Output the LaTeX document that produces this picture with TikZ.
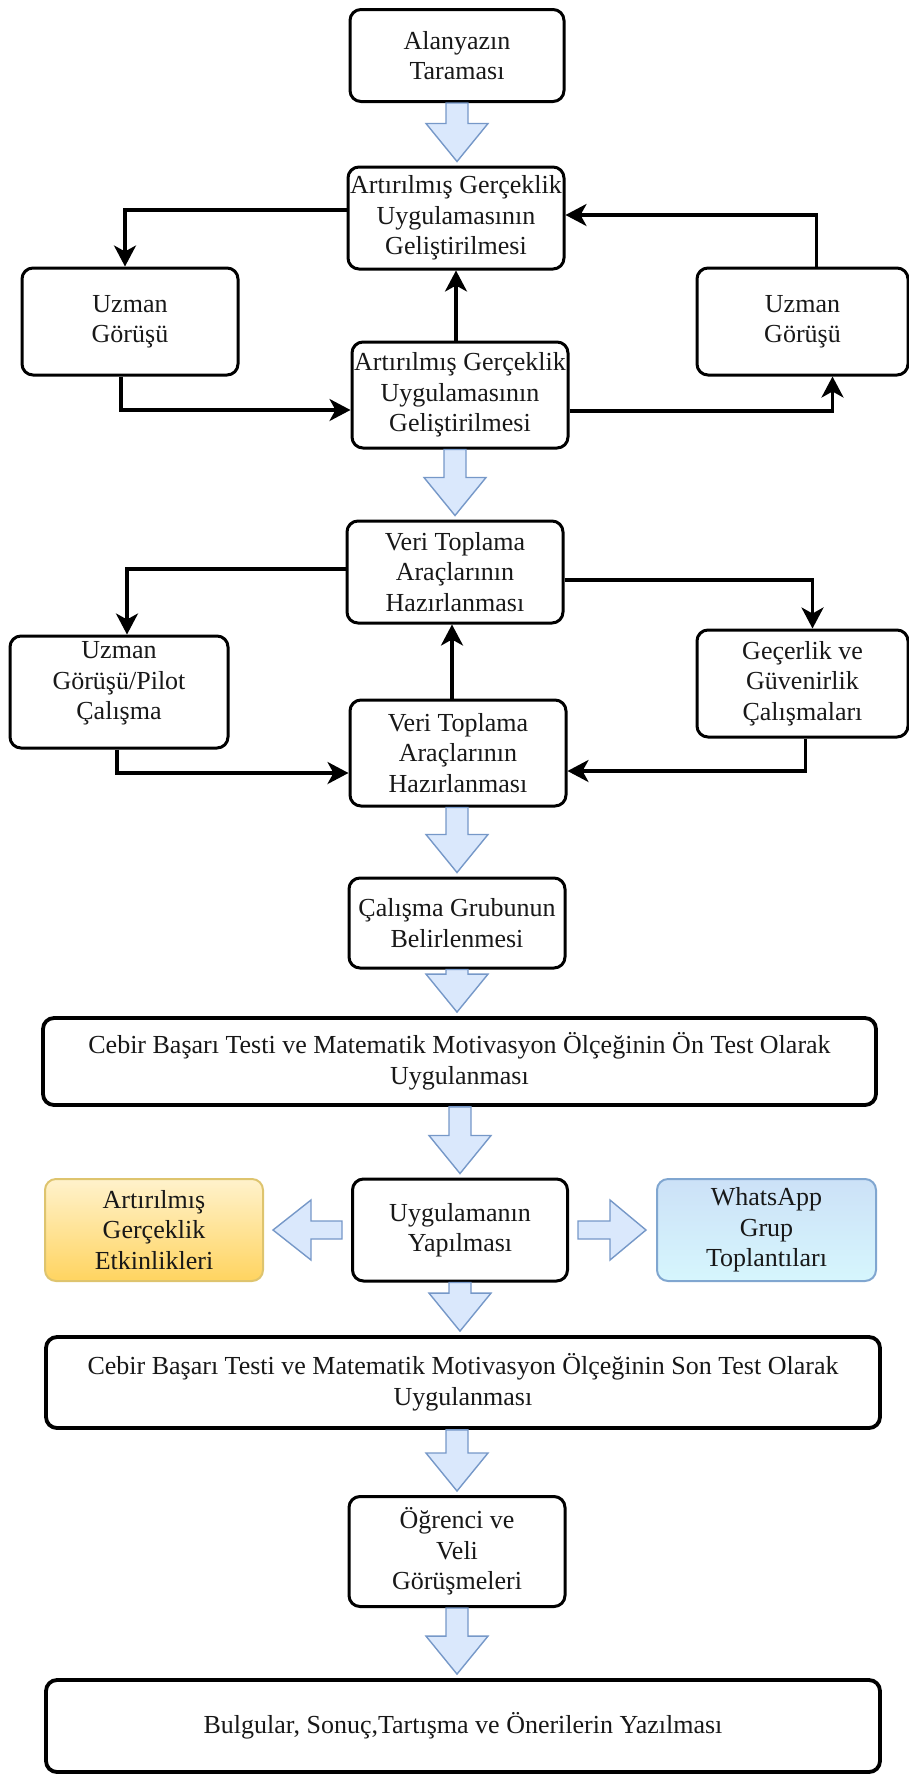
\documentclass[tikz,border=0pt]{standalone}
\usepackage{fontspec}
\setmainfont{Liberation Serif}
\usetikzlibrary{arrows.meta,calc}

\definecolor{txt}{RGB}{24,24,24}
\definecolor{arrowfill}{RGB}{218,232,252}
\definecolor{arrowline}{RGB}{118,152,200}
\definecolor{ylwtop}{RGB}{255,242,204}
\definecolor{ylwbot}{RGB}{255,212,96}
\definecolor{ylwline}{RGB}{222,196,110}
\definecolor{blutop}{RGB}{204,225,247}
\definecolor{blubot}{RGB}{214,246,253}
\definecolor{bluline}{RGB}{128,166,208}

% hollow block arrow pointing down, centred on the x of node #3
\newcommand\blockdown[3]{%
  \draw[barrow] let \p1=(#1.south), \p2=(#2.north), \p3=(#3.center) in
    (\x3-11pt,\y1) -- (\x3-11pt,\y2+42pt) -- (\x3-31pt,\y2+42pt) -- (\x3,\y2+4pt)
    -- (\x3+31pt,\y2+42pt) -- (\x3+11pt,\y2+42pt) -- (\x3+11pt,\y1) -- cycle;}
% hollow block arrows pointing sideways
\newcommand\blockleft[2]{%
  \draw[barrow] let \p1=(#1.west), \p2=(#2.east) in
    (\x1-9pt,\y1+9pt) -- (\x2+47pt,\y1+9pt) -- (\x2+47pt,\y1+30pt) -- (\x2+9pt,\y1)
    -- (\x2+47pt,\y1-30pt) -- (\x2+47pt,\y1-9pt) -- (\x1-9pt,\y1-9pt) -- cycle;}
\newcommand\blockright[2]{%
  \draw[barrow] let \p1=(#1.east), \p2=(#2.west) in
    (\x1+9pt,\y1+9pt) -- (\x2-46pt,\y1+9pt) -- (\x2-46pt,\y1+30pt) -- (\x2-10pt,\y1)
    -- (\x2-46pt,\y1-30pt) -- (\x2-46pt,\y1-9pt) -- (\x1+9pt,\y1-9pt) -- cycle;}

\begin{document}
\begin{tikzpicture}[x=1pt,y=-1pt,
  every node/.style={font=\fontsize{26}{30.5}\selectfont, text=txt, align=center, inner sep=0pt},
  box/.style={draw=black, line width=3pt, rounded corners=11pt, fill=white},
  widebox/.style={box, line width=3.8pt},
  yellowbox/.style={draw=ylwline, line width=2pt, rounded corners=11pt, top color=ylwtop, bottom color=ylwbot},
  bluebox/.style={draw=bluline, line width=2pt, rounded corners=11pt, top color=blutop, bottom color=blubot},
  link/.style={draw=black, line width=3.3pt, -{Stealth[length=21pt,width=22pt,inset=6pt]}},
  barrow/.style={draw=arrowline, fill=arrowfill, line width=1.4pt, line join=miter}]

\useasboundingbox (0,0) rectangle (909,1778);

% stages
\node[box, minimum width=214pt, minimum height=92pt]  (alan)  at (457,55.5)   {Alanyazın\\Taraması};
\node[box, minimum width=216pt, minimum height=102pt] (ar1)   at (456,218)    {Artırılmış Gerçeklik\\Uygulamasının\\Geliştirilmesi};
\node[box, minimum width=216pt, minimum height=107pt] (uzL)   at (130,321.5)  {Uzman\\Görüşü};
\node[box, minimum width=211pt, minimum height=107pt] (uzR)   at (802.5,321.5){Uzman\\Görüşü};
\node[box, minimum width=216pt, minimum height=106pt] (ar2)   at (460,395)    {Artırılmış Gerçeklik\\Uygulamasının\\Geliştirilmesi};
\node[box, minimum width=216pt, minimum height=102pt] (veri1) at (455,572)    {Veri Toplama\\Araçlarının\\Hazırlanması};
\node[box, minimum width=218pt, minimum height=112pt] (uzP)   at (119,692)    {Uzman\\Görüşü/Pilot\\Çalışma\\[-8pt]\mbox{}};
\node[box, minimum width=211pt, minimum height=107pt] (gec)   at (802.5,683.5){Geçerlik ve\\Güvenirlik\\Çalışmaları};
\node[box, minimum width=216pt, minimum height=106pt] (veri2) at (458,753)    {Veri Toplama\\Araçlarının\\Hazırlanması};
\node[box, minimum width=216pt, minimum height=90pt]  (calis) at (457,923)    {Çalışma Grubunun\\Belirlenmesi};
\node[widebox, minimum width=833pt, minimum height=87pt] (on) at (459.5,1061.5)
  {Cebir Başarı Testi ve Matematik Motivasyon Ölçeğinin Ön Test Olarak\\Uygulanması};
\node[box, minimum width=215pt, minimum height=102pt] (uyg)   at (460,1230)   {Uygulamanın\\Yapılması};
\node[yellowbox, minimum width=218pt, minimum height=102pt] (etk) at (154,1230) {Artırılmış\\Gerçeklik\\Etkinlikleri};
\node[bluebox, minimum width=219pt, minimum height=102pt] (wa) at (766.5,1230) {WhatsApp\\Grup\\Toplantıları};
\node[widebox, minimum width=834pt, minimum height=91pt] (son) at (463,1382.5)
  {Cebir Başarı Testi ve Matematik Motivasyon Ölçeğinin Son Test Olarak\\Uygulanması};
\node[box, minimum width=216pt, minimum height=110pt] (ogr)   at (457,1551.5) {Öğrenci ve\\Veli\\Görüşmeleri};
\node[widebox, minimum width=834pt, minimum height=92pt] (bul) at (463,1726)
  {Bulgular, Sonuç,Tartışma ve Önerilerin Yazılması};

% main flow
\blockdown{alan}{ar1}{alan}
\blockdown{ar2}{veri1}{veri1}
\blockdown{veri2}{calis}{calis}
\blockdown{calis}{on}{calis}
\blockdown{on}{uyg}{uyg}
\blockdown{uyg}{son}{uyg}
\blockdown{son}{ogr}{ogr}
\blockdown{ogr}{bul}{ogr}
\blockleft{uyg}{etk}
\blockright{uyg}{wa}

% expert review loop for the AR application
\draw[link] ([yshift=8pt]ar1.west) -| ([xshift=-5pt]uzL.north);
\draw[link] ([xshift=14pt]uzR.north) |- ([yshift=3pt]ar1.east);
\draw[link] ([xshift=-9pt]uzL.south) |- ([yshift=-15pt]ar2.west);
\draw[link] ([yshift=-16pt]ar2.east) -| ([xshift=30pt]uzR.south);
\draw[link] (ar2.north -| ar1.south) -- (ar1.south);

% validation loop for the data collection tools
\draw[link] ([yshift=3pt]veri1.west) -| ([xshift=8pt]uzP.north);
\draw[link] ([yshift=-8pt]veri1.east) -| ([xshift=10pt]gec.north);
\draw[link] ([xshift=-2pt]uzP.south) |- ([yshift=-20pt]veri2.west);
\draw[link] ([xshift=3pt]gec.south) |- ([yshift=-18pt]veri2.east);
\draw[link] ([xshift=-6pt]veri2.north) -- ([xshift=-6pt]veri2.north |- veri1.south);
\end{tikzpicture}
\end{document}
